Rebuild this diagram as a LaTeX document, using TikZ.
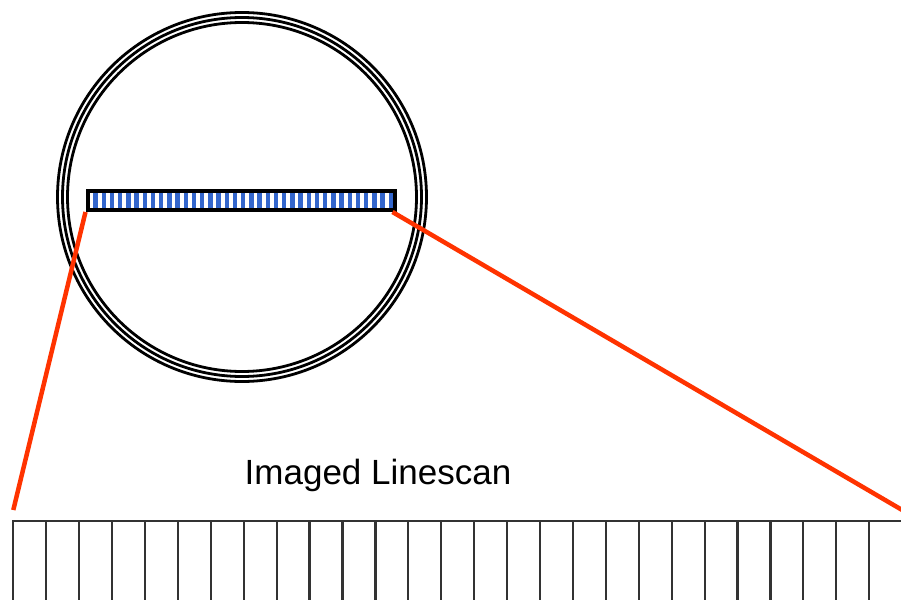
\documentclass[tikz,border=0pt]{standalone}
\usepackage{fontspec}
\setmainfont{Liberation Sans}
\definecolor{stripeblue}{RGB}{51,102,204}
\definecolor{zoomred}{RGB}{255,51,0}
\tikzstyle{ring} = [draw=black, line width=2.8pt]
\tikzstyle{cell} = [rectangle, draw=black!80, line width=2.2pt, outer sep=0pt,
    minimum width=32.92pt, minimum height=100pt, inner sep=0pt, anchor=north west]

\begin{document}
\begin{tikzpicture}[
x=1pt, y=-1pt,
scanbar/.style = {rectangle, draw, line width=4pt, inner sep=0pt,
    minimum width=307pt, minimum height=19pt},
zoomline/.style = {draw=zoomred, line width=4.5pt},
caption/.style = {font=\fontsize{35}{42}\selectfont, anchor=base, inner sep=0pt}
                        ]
\useasboundingbox (0,0) rectangle (901,599);
% lens rings
\coordinate (lens) at (242,197);
\foreach \r in {174.5,179.5,184.5}
  \draw[ring] (lens) circle (\r pt);
% scan bar
\node [scanbar] (bar) at (241,200.5) {};
\foreach \i in {0,...,36}
  \fill[stripeblue] (93.3+\i*8.2,193) rectangle +(4.4,15);
% imaged line
\node [caption] (title) at (378,484) {Imaged Linescan};
\foreach \k in {0,...,27}
  \node [cell] (cell\k) at (13.3+\k*32.92,521) {};
% zoom lines
\draw[zoomline] (bar.south west) -- ([yshift=11pt]cell0.north west);
\draw[zoomline] ([xshift=-4pt]bar.south east) -- ([yshift=11pt]cell26.north east);
\end{tikzpicture}
\end{document}
